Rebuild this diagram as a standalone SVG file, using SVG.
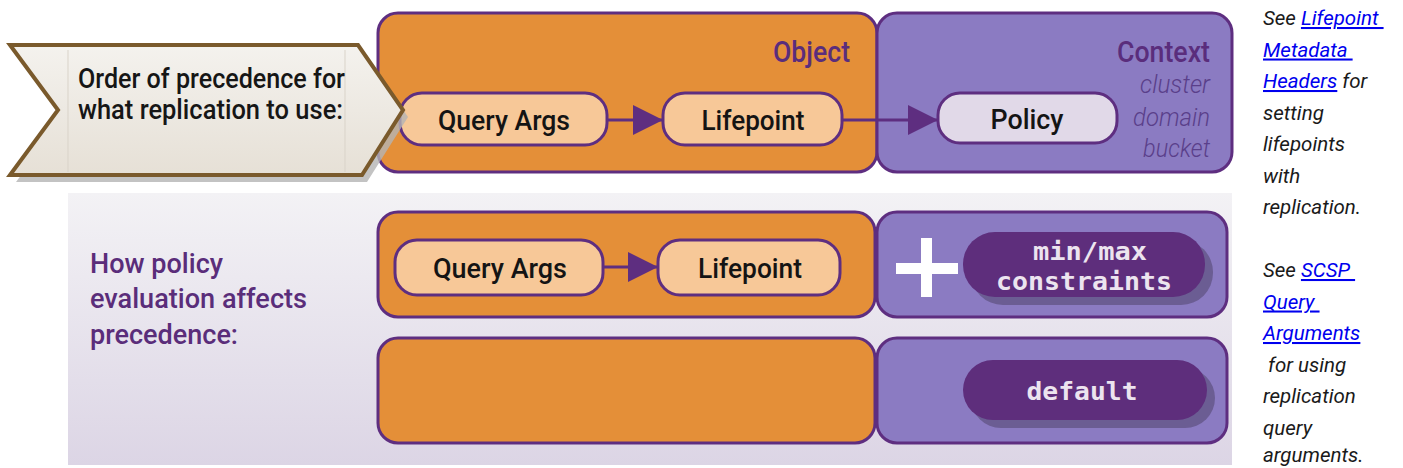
<svg xmlns="http://www.w3.org/2000/svg" width="1403" height="468" viewBox="0 0 1403 468">
<defs>
<linearGradient id="panelGrad" x1="0" y1="0" x2="0" y2="1">
<stop offset="0" stop-color="#f3f2f5"/>
<stop offset="1" stop-color="#dcd5e5"/>
</linearGradient>
<linearGradient id="chevGrad" x1="0" y1="0" x2="0" y2="1">
<stop offset="0" stop-color="#f4f2ee"/>
<stop offset="1" stop-color="#e6e0d6"/>
</linearGradient>
<marker id="arrowBig" viewBox="0 0 30 30" refX="30" refY="15" markerWidth="30" markerHeight="30" markerUnits="userSpaceOnUse" orient="auto">
<path d="M0,0 L30,15 L0,30 Z" fill="#5e2e80"/>
</marker>
</defs>
<style>
.obj{fill:#e48f38;stroke:#5e2e80;stroke-width:3}
.ctx{fill:#8b7bc2;stroke:#5e2e80;stroke-width:3}
.pill{fill:#f7c898;stroke:#5e2e80;stroke-width:3}
.pol{fill:#e1d9e8;stroke:#5e2e80;stroke-width:3}
.dark{fill:#5e2e7c}
.dshadow{fill:#6b5d93}
.lbl{font-family:Roboto,"Liberation Sans",sans-serif;font-weight:500;font-size:28px;fill:#141414;text-anchor:middle}
.hdr{font-family:Roboto,"Liberation Sans",sans-serif;font-weight:500;font-size:29px;fill:#5a2d7c;text-anchor:end}
.ital{font-family:Roboto,"Liberation Sans",sans-serif;font-style:italic;font-weight:300;font-size:25px;fill:#5a3f8a;text-anchor:end}
.mono{font-family:"DejaVu Sans Mono","Liberation Mono",monospace;font-weight:bold;font-size:25px;fill:#ece4ef;text-anchor:middle}
.side{font-family:Roboto,"Liberation Sans",sans-serif;font-style:italic;font-size:20.5px;fill:#1a1a1a}
.lnk{fill:#0000ee;text-decoration:underline}
.conn{stroke:#5e2e80;stroke-width:3;fill:none}
</style>

<!-- lower background panel -->
<rect id="panel" x="68" y="193" width="1164" height="272" fill="url(#panelGrad)"/>

<!-- Row 1 -->
<g id="object-top">
<rect class="obj" x="378" y="13" width="499" height="159" rx="20"/>
<text class="hdr" x="850" y="62" textLength="77" lengthAdjust="spacingAndGlyphs">Object</text>
</g>
<g id="context-top">
<rect class="ctx" x="877" y="13" width="355" height="159" rx="20"/>
<text class="hdr" x="1210" y="62" textLength="93" lengthAdjust="spacingAndGlyphs">Context</text>
<text class="ital" x="1210" y="93" textLength="70" lengthAdjust="spacingAndGlyphs">cluster</text>
<text class="ital" x="1210" y="126" textLength="77" lengthAdjust="spacingAndGlyphs">domain</text>
<text class="ital" x="1210" y="157" textLength="67" lengthAdjust="spacingAndGlyphs">bucket</text>
</g>
<g id="queryargs-top">
<rect class="pill" x="400" y="93" width="207" height="52" rx="22"/>
<text class="lbl" x="504" y="130" textLength="132" lengthAdjust="spacingAndGlyphs">Query Args</text>
</g>
<g id="lifepoint-top">
<rect class="pill" x="663" y="93" width="179" height="52" rx="22"/>
<text class="lbl" x="753" y="130" textLength="103" lengthAdjust="spacingAndGlyphs">Lifepoint</text>
</g>
<g id="policy">
<rect class="pol" x="938" y="93" width="179" height="50" rx="22"/>
<text class="lbl" x="1027" y="129" textLength="73" lengthAdjust="spacingAndGlyphs">Policy</text>
</g>

<!-- chevron -->
<g id="order-chevron">
<polygon points="16,52 364,52 408,117 367,182 16,182 64,117" fill="#b4b4b4" opacity="0.8"/>
<polygon points="10,45 358,45 403,110 362,175 10,175 58,110" fill="url(#chevGrad)" stroke="#7a5a2c" stroke-width="4" stroke-linejoin="miter"/>
<line x1="68" y1="50" x2="68" y2="172" stroke="#d9d3c9" stroke-width="1"/>
<line x1="345" y1="50" x2="345" y2="172" stroke="#d9d3c9" stroke-width="1"/>
<text font-family="Roboto,'Liberation Sans',sans-serif" font-weight="500" font-size="27" fill="#161616">
<tspan x="78" y="88" textLength="267" lengthAdjust="spacingAndGlyphs">Order of precedence for</tspan>
<tspan x="78" y="119" textLength="265" lengthAdjust="spacingAndGlyphs">what replication to use:</tspan>
</text>
</g>

<!-- Row 2 -->
<g id="panel-label">
<text font-family="Roboto,'Liberation Sans',sans-serif" font-weight="500" font-size="27" fill="#5a2d7a">
<tspan x="90" y="273" textLength="133" lengthAdjust="spacingAndGlyphs">How policy</tspan>
<tspan x="90" y="308" textLength="217" lengthAdjust="spacingAndGlyphs">evaluation affects</tspan>
<tspan x="90" y="344" textLength="148" lengthAdjust="spacingAndGlyphs">precedence:</tspan>
</text>
</g>
<g id="object-mid">
<rect class="obj" x="378" y="212" width="497" height="105" rx="20"/>
</g>
<g id="context-mid">
<rect class="ctx" x="877" y="212" width="350" height="105" rx="20"/>
<rect x="896" y="263" width="62" height="11" fill="#ffffff"/>
<rect x="921" y="238" width="11" height="59" fill="#ffffff"/>
</g>
<g id="queryargs-mid">
<rect class="pill" x="395" y="240" width="208" height="55" rx="22"/>
<text class="lbl" x="500" y="278" textLength="134" lengthAdjust="spacingAndGlyphs">Query Args</text>
</g>
<g id="lifepoint-mid">
<rect class="pill" x="658" y="240" width="182" height="55" rx="22"/>
<text class="lbl" x="750" y="278" textLength="104" lengthAdjust="spacingAndGlyphs">Lifepoint</text>
</g>
<g id="minmax">
<rect class="dshadow" x="971" y="240" width="242" height="65" rx="32"/>
<rect class="dark" x="963" y="232" width="242" height="65" rx="32"/>
<text class="mono" x="1090" y="260" textLength="114" lengthAdjust="spacingAndGlyphs">min/max</text>
<text class="mono" x="1084" y="290" textLength="176" lengthAdjust="spacingAndGlyphs">constraints</text>
</g>

<!-- Row 3 -->
<g id="object-bottom">
<rect class="obj" x="378" y="338" width="497" height="105" rx="20"/>
</g>
<g id="context-bottom">
<rect class="ctx" x="877" y="338" width="350" height="105" rx="20"/>
</g>
<g id="default">
<rect class="dshadow" x="971" y="368" width="244" height="60" rx="30"/>
<rect class="dark" x="963" y="360" width="244" height="60" rx="30"/>
<text class="mono" x="1082" y="400" textLength="111" lengthAdjust="spacingAndGlyphs">default</text>
</g>

<!-- connectors -->
<g id="connectors">
<line class="conn" x1="607" y1="120" x2="663" y2="120" marker-end="url(#arrowBig)"/>
<line class="conn" x1="842" y1="120" x2="938" y2="120" marker-end="url(#arrowBig)"/>
<line class="conn" x1="603" y1="267" x2="658" y2="267" marker-end="url(#arrowBig)"/>
</g>

<!-- side notes -->
<g id="side-notes">
<text class="side" xml:space="preserve">
<tspan x="1263" y="25">See <tspan class="lnk">Lifepoint&#160;</tspan></tspan>
<tspan x="1263" y="56.5"><tspan class="lnk">Metadata&#160;</tspan></tspan>
<tspan x="1263" y="88"><tspan class="lnk">Headers</tspan> for</tspan>
<tspan x="1263" y="119.5">setting</tspan>
<tspan x="1263" y="151">lifepoints</tspan>
<tspan x="1263" y="182.5">with</tspan>
<tspan x="1263" y="214">replication.</tspan>
<tspan x="1263" y="277">See <tspan class="lnk">SCSP&#160;</tspan></tspan>
<tspan x="1263" y="308.5"><tspan class="lnk">Query&#160;</tspan></tspan>
<tspan x="1263" y="340"><tspan class="lnk">Arguments</tspan></tspan>
<tspan x="1263" y="371.5">&#160;for using</tspan>
<tspan x="1263" y="403">replication</tspan>
<tspan x="1263" y="434.5">query</tspan>
<tspan x="1263" y="462">arguments.</tspan>
</text>
</g>
</svg>
